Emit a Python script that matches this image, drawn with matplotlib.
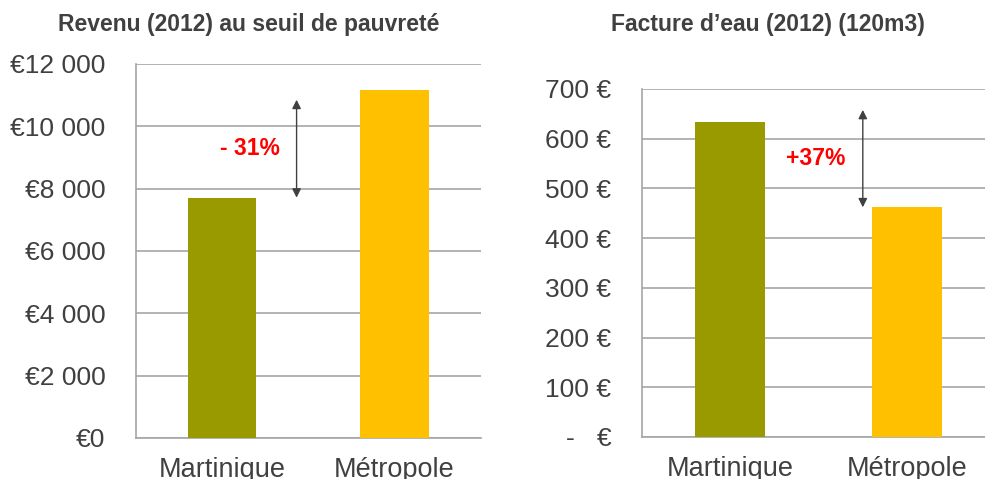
import matplotlib.pyplot as plt
from matplotlib.ticker import FixedLocator

plt.rcParams['font.family'] = ['Liberation Sans', 'DejaVu Sans']

categories = ["Martinique", "Métropole"]
colors = ["#999900", "#FFC000"]

revenu = [7710, 11150]
revenu_ticks = [0, 2000, 4000, 6000, 8000, 10000, 12000]
revenu_labels = ["€0", "€2 000", "€4 000", "€6 000", "€8 000", "€10 000", "€12 000"]

eau = [634, 462]
eau_ticks = [0, 100, 200, 300, 400, 500, 600, 700]
eau_labels = ["-   €", "100 €", "200 €", "300 €", "400 €", "500 €", "600 €", "700 €"]

text_col = "#404040"
grid_col = "#A6A6A6"

fig = plt.figure(figsize=(9.85, 4.79), dpi=100)
ax1 = fig.add_axes([0.138, 0.0856, 0.350, 0.781])
ax2 = fig.add_axes([0.6515, 0.0877, 0.3594, 0.7265])


def style(ax, values, ticks, labels):
    x = range(len(values))
    ax.bar(x, values, width=0.395, color=colors, zorder=3)
    ax.set_xlim(-0.5, 1.5)
    ax.set_ylim(ticks[0], ticks[-1])
    ax.yaxis.set_major_locator(FixedLocator(ticks))
    ax.set_yticklabels(labels)
    ax.set_xticks(list(x))
    ax.set_xticklabels(categories)
    ax.grid(axis="y", color=grid_col, lw=1.2, zorder=0)
    ax.set_axisbelow(True)
    for s in ["top", "right"]:
        ax.spines[s].set_visible(False)
    for s in ["left", "bottom"]:
        ax.spines[s].set_color(grid_col)
        ax.spines[s].set_linewidth(1.2)
    ax.tick_params(axis="y", length=0, pad=22, labelsize=19, labelcolor=text_col)
    ax.tick_params(axis="x", length=0, pad=14, labelsize=19.5, labelcolor=text_col)


style(ax1, revenu, revenu_ticks, revenu_labels)
style(ax2, eau, eau_ticks, eau_labels)

arrow = dict(arrowstyle="<|-|>", color="#404040", lw=1, mutation_scale=13,
             shrinkA=0, shrinkB=0)
ax1.annotate("", xy=(0.432, 10850), xytext=(0.432, revenu[0]), arrowprops=arrow)
ax1.text(0.16, 9300, "- 31%", color="#FF0000", fontsize=16.5, fontweight="bold",
         ha="center", va="center")

ax2.annotate("", xy=(0.749, 658), xytext=(0.749, eau[1]), arrowprops=arrow)
ax2.text(0.484, 561, "+37%", color="#FF0000", fontsize=16.5, fontweight="bold",
         ha="center", va="center")

fig.text(0.252, 0.948, "Revenu (2012) au seuil de pauvreté", ha="center",
         va="center", fontsize=16.5, fontweight="bold", color=text_col)
fig.text(0.78, 0.948, "Facture d’eau (2012) (120m3)", ha="center",
         va="center", fontsize=16.5, fontweight="bold", color=text_col)

fig.savefig("out.png", dpi=100)
